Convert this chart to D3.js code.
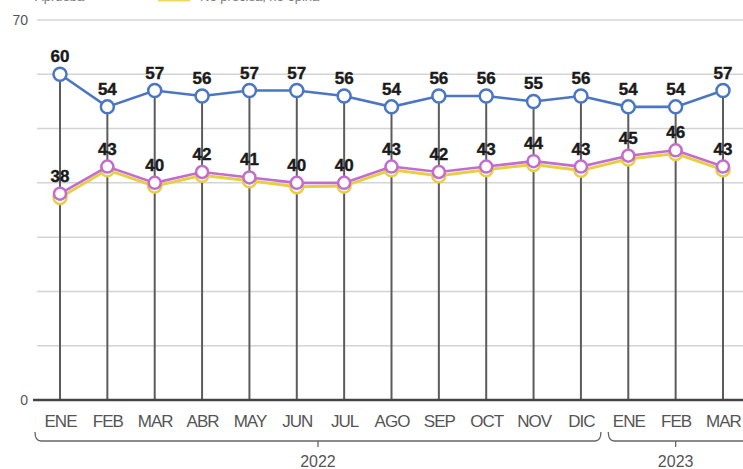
<!DOCTYPE html>
<html><head><meta charset="utf-8">
<script src="https://cdn.jsdelivr.net/npm/d3@7"></script>
<style>
html,body{margin:0;padding:0;background:#fff;}
svg{display:block;font-family:"Liberation Sans",Arial,sans-serif;}
</style></head>
<body>
<svg id="c" width="743" height="469"></svg>
<script>
const months = ["ENE","FEB","MAR","ABR","MAY","JUN","JUL","AGO","SEP","OCT","NOV","DIC","ENE","FEB","MAR"];
const blueValues = [60,54,57,56,57,57,56,54,56,56,55,56,54,54,57];
const pinkValues = [38,43,40,42,41,40,40,43,42,43,44,43,45,46,43];
const yellowValues = [37.3,42.4,39.4,41.4,40.4,39.3,39.4,42.4,41.3,42.4,43.4,42.3,44.4,45.4,42.4];
const yearLabels = ["2022","2023"];
const yearSpans = [[0,11],[12,14]];
const yTickLabels = [0,70];
const gridValues = [10,20,30,40,50,60,70];
const legendLabels = ["Aprueba","No precisa, no opina"];

const svg = d3.select("#c");
const x = d3.scalePoint().domain(d3.range(months.length)).range([60,723]);
const y = d3.scaleLinear().domain([0,70]).range([400,20]);

// legend (cut off at top edge, as in the reference)
const lg = svg.append("g");
lg.append("text").attr("x",35).attr("y",1).attr("font-size",13).attr("fill","#777").text(legendLabels[0]);
lg.append("line").attr("x1",158).attr("x2",190).attr("y1",0).attr("y2",0).attr("stroke","#f0d860").attr("stroke-width",3);
lg.append("text").attr("x",200).attr("y",1).attr("font-size",13).attr("fill","#777").text(legendLabels[1]);

// grid
svg.append("g").selectAll("line").data(gridValues).join("line")
  .attr("x1",37).attr("x2",743).attr("y1",d=>y(d)).attr("y2",d=>y(d))
  .attr("stroke","#d4d4d4").attr("stroke-width",1.5);

// y labels
const ya = svg.append("g").attr("transform","translate(30,0)")
  .call(d3.axisLeft(y).tickValues(yTickLabels).tickSize(0).tickPadding(2));
ya.select(".domain").remove();
ya.selectAll("text").attr("font-size",14).attr("fill","#555").attr("font-family","Liberation Sans, Arial, sans-serif");

// drop lines
svg.append("g").selectAll("line").data(blueValues).join("line")
  .attr("x1",(d,i)=>x(i)).attr("x2",(d,i)=>x(i))
  .attr("y1",d=>y(d)).attr("y2",y(0))
  .attr("stroke","#5c5c5c").attr("stroke-width",2);

// x axis
const xa = svg.append("g").attr("transform",`translate(0,${y(0)})`)
  .call(d3.axisBottom(x).tickFormat(i=>months[i]).tickSize(0).tickPadding(15));
xa.select(".domain").remove();
xa.selectAll("text").attr("font-size",17).attr("fill","#555").attr("letter-spacing","-1")
  .attr("font-family","Liberation Sans, Arial, sans-serif");
svg.append("line").attr("x1",33).attr("x2",743).attr("y1",y(0)).attr("y2",y(0))
  .attr("stroke","#444").attr("stroke-width",2.5);

// year brackets
const br = svg.append("g").attr("fill","none").attr("stroke","#666").attr("stroke-width",1.3);
yearSpans.forEach((s,k)=>{
  const x0 = k===0 ? 35 : x(s[0]) - 20;
  const x1 = k===0 ? x(s[1]) + 20 : 760;
  const mid = k===0 ? (x0+x1)/2 : x(13);
  br.append("path").attr("d",`M${x0},432 Q${x0},441 ${x0+6},441 L${x1-6},441 Q${x1},441 ${x1},432`);
  br.append("line").attr("x1",mid).attr("x2",mid).attr("y1",441).attr("y2",447);
  svg.append("text").attr("x",mid).attr("y",467).attr("text-anchor","middle")
    .attr("font-size",16).attr("fill","#555").text(yearLabels[k]);
});

const line = d3.line().x((d,i)=>x(i)).y(d=>y(d));
function series(vals, color, width, r, fill){
  svg.append("path").datum(vals).attr("d",line).attr("fill","none")
    .attr("stroke",color).attr("stroke-width",width);
  svg.append("g").selectAll("circle").data(vals).join("circle")
    .attr("cx",(d,i)=>x(i)).attr("cy",d=>y(d)).attr("r",r)
    .attr("fill",fill).attr("stroke",color).attr("stroke-width",2.5);
}
series(yellowValues,"#e6cf45",3,6.5,"#fff");
series(pinkValues,"#c46ccd",2.6,6,"#fff");
series(blueValues,"#4a76c4",2.6,6.5,"#fff");

function labels(vals){
  svg.append("g").selectAll("text").data(vals).join("text")
    .attr("x",(d,i)=>x(i)).attr("y",d=>y(d)-12).attr("text-anchor","middle")
    .attr("font-size",17).attr("font-weight","bold").attr("fill","#1a1a1a")
    .attr("stroke","#1a1a1a").attr("stroke-width",0.4)
    .text(d=>d);
}
labels(blueValues);
labels(pinkValues);
</script>
</body></html>
